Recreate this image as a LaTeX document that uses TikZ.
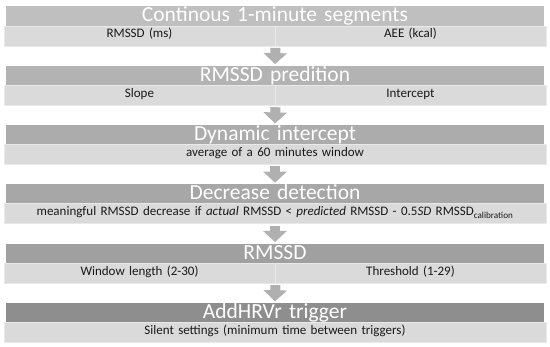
\documentclass[tikz,border=0pt]{standalone}
\usepackage{fontspec}
\setmainfont{Carlito}
\usetikzlibrary{arrows.meta}
\definecolor{subfill}{HTML}{DADADA}
\definecolor{subedge}{HTML}{E9E9E9}
\definecolor{hA}{HTML}{BFBFBF}
\definecolor{hB}{HTML}{B3B3B3}
\definecolor{hC}{HTML}{ACACAC}
\definecolor{hD}{HTML}{A7A7A7}
\definecolor{hE}{HTML}{A0A0A0}
\definecolor{hF}{HTML}{8E8E8E}
\definecolor{arrowgray}{HTML}{B0B0B0}
\tikzset{
  headbox/.style={rectangle, inner sep=0pt, minimum width=538pt, text width=538pt, align=center,
    text height=15.5pt, text depth=4pt, text=white, font=\fontsize{21.5}{24}\selectfont},
  subfull/.style={rectangle, inner sep=0pt, minimum width=542pt, text width=542pt, align=center,
    fill=subfill, draw=subedge, line width=0.8pt,
    text height=12pt, text depth=8pt, text=black!90, font=\fontsize{13}{15}\selectfont},
  subhalf/.style={subfull, minimum width=271pt, text width=271pt},
  flowarrow/.style={draw=arrowgray, line width=10pt, shorten <=1.5pt, shorten >=1.5pt,
    -{Triangle[width=23pt,length=11pt]}, arrowgray}
}
\begin{document}
\begin{tikzpicture}[x=1pt,y=-1pt]
\useasboundingbox[fill=white] (0,0) rectangle (550,347);
% row 1
\node[headbox, fill=hA] (h1) at (275,16.25) {Continous 1-minute segments};
\node[subhalf] (s1a) at (139.5,36) {RMSSD (ms)};
\node[subhalf] (s1b) at (410.5,36) {AEE (kcal)};
% row 2
\node[headbox, fill=hB] (h2) at (275,75.55) {RMSSD predition};
\node[subhalf] (s2a) at (139.5,95.3) {Slope};
\node[subhalf] (s2b) at (410.5,95.3) {Intercept};
% row 3
\node[headbox, fill=hC] (h3) at (275,134.85) {Dynamic intercept};
\node[subfull] (s3) at (275,154.6) {average of a 60 minutes window};
% row 4
\node[headbox, fill=hD] (h4) at (275,194.15) {Decrease detection};
\node[subfull] (s4) at (275,213.9) {meaningful RMSSD decrease if \textit{actual} RMSSD < \textit{predicted} RMSSD - 0.5\textit{SD} RMSSD\textsubscript{calibration}};
% row 5
\node[headbox, fill=hE] (h5) at (275,253.45) {RMSSD};
\node[subhalf] (s5a) at (139.5,273.2) {Window length (2-30)};
\node[subhalf] (s5b) at (410.5,273.2) {Threshold (1-29)};
% row 6
\node[headbox, fill=hF] (h6) at (275,312.75) {AddHRVr trigger};
\node[subfull] (s6) at (275,332.5) {Silent settings (minimum time between triggers)};
% arrows
\draw[flowarrow] (s1a.south east) -- (h2.north);
\draw[flowarrow] (s2a.south east) -- (h3.north);
\draw[flowarrow] (s3.south) -- (h4.north);
\draw[flowarrow] (s4.south) -- (h5.north);
\draw[flowarrow] (s5a.south east) -- (h6.north);
\end{tikzpicture}
\end{document}
